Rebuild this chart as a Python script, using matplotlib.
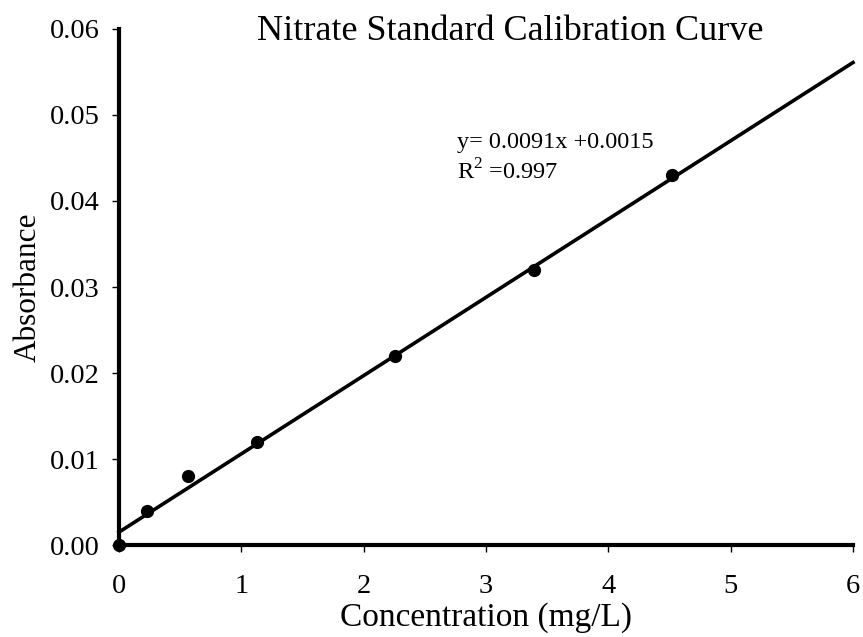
import numpy as np
import matplotlib
matplotlib.use("Agg")
import matplotlib.pyplot as plt

plt.rcParams['font.family'] = ['Liberation Serif', 'DejaVu Serif']
plt.rcParams['mathtext.fontset'] = 'custom'
plt.rcParams['mathtext.rm'] = 'Liberation Serif'

# standard concentrations and measured absorbance
conc = [0.0, 0.226, 0.565, 1.13, 2.26, 3.39, 4.52]
absorb = [0.0, 0.004, 0.008, 0.012, 0.022, 0.032, 0.043]

# fitted line
slope = 0.0091
intercept = 0.0015
fit_x = [0, 6]

fig = plt.figure(figsize=(8.63, 6.37), dpi=100)
ax = fig.add_axes([0.1379, 0.1444, 0.8505, 0.8101])

fx = np.array(fit_x)
ax.plot(fx, slope * fx + intercept, color='black', lw=2.6, clip_on=False)
ax.plot(conc, absorb, 'o', color='black', ms=8.5, clip_on=False, zorder=5)

ax.set_xlim(0, 6)
ax.set_ylim(0, 0.06)
ax.set_xticks(range(0, 7))
ax.set_yticks(np.arange(0, 0.061, 0.01))
ax.set_yticklabels(['%.2f' % v for v in np.arange(0, 0.061, 0.01)])

for s in ['top', 'right']:
    ax.spines[s].set_visible(False)
for s in ['left', 'bottom']:
    ax.spines[s].set_linewidth(3)

ax.tick_params(direction='out', length=5, width=1, labelsize=20.5)
ax.tick_params(axis='y', pad=9)
ax.tick_params(axis='x', pad=16)

ax.set_xlabel('Concentration (mg/L)', fontsize=24, labelpad=2)
ax.set_ylabel('Absorbance', fontsize=22.5, labelpad=5)

ax.text(0.533, 0.995, 'Nitrate Standard Calibration Curve', transform=ax.transAxes,
        ha='center', va='center', fontsize=26)

ax.text(2.76, 0.0468, 'y= 0.0091x +0.0015', fontsize=17.5, va='center')
ax.text(2.76, 0.0434, 'R$^{2}$ =0.997', fontsize=17.5, va='center')

fig.savefig('out.png', dpi=100)
